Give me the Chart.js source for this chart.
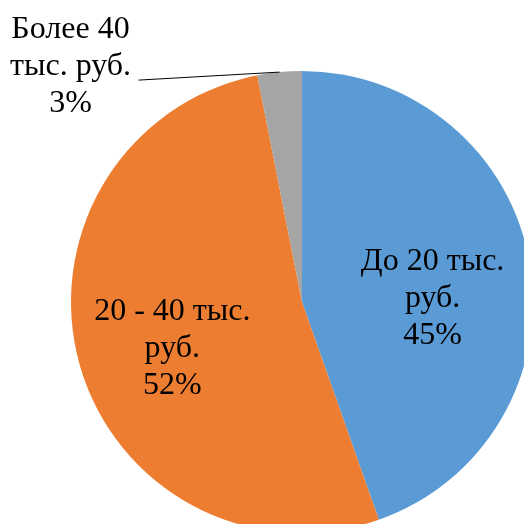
<!DOCTYPE html>
<html>
<head>
<meta charset="utf-8">
<script src="https://cdn.jsdelivr.net/npm/chart.js@4"></script>
<style>
  html, body { margin: 0; padding: 0; overflow: hidden; background: #fff; }
  #wrap { width: 524px; height: 524px; overflow: hidden; position: relative; }
  canvas { position: absolute; left: 0; top: 0; }
</style>
</head>
<body>
<div id="wrap"><canvas id="myChart" width="604" height="604"></canvas></div>
<script>
const ctx = document.getElementById('myChart').getContext('2d')

const labels = [
    ['До 20 тыс.', 'руб.'],
    ['20 - 40 тыс.', 'руб.'],
    ['Более 40', 'тыс. руб.']
]
const values = [44.6, 52.3, 3.1]
const colors = ['#5B9BD5', '#ED7D31', '#A5A5A5']

const font = '32px "Liberation Serif", "Times New Roman", serif'
const lineH = 37

// labels drawn by hand, Excel-like
const pieLabels = {
    id: 'pieLabels',
    afterDatasetsDraw(chart) {
        const c = chart.ctx
        const meta = chart.getDatasetMeta(0)
        const total = values.reduce((a, b) => a + b, 0)
        const shift = [[-6, 20], [4, 10]]
        c.save()
        c.font = font
        c.fillStyle = '#000'
        c.textAlign = 'center'
        c.textBaseline = 'middle'
        meta.data.forEach((arc, i) => {
            const mid = (arc.startAngle + arc.endAngle) / 2
            const lines = labels[i].concat([Math.round(values[i] / total * 100) + '%'])
            let x, y
            if (i === 2) {
                // outside label with leader line
                const ex = arc.x + Math.cos(mid) * arc.outerRadius
                const ey = arc.y + Math.sin(mid) * arc.outerRadius
                const lx = ex - 141, ly = ey + 8
                c.strokeStyle = '#000'
                c.lineWidth = 1
                c.beginPath()
                c.moveTo(ex, ey)
                c.lineTo(lx, ly)
                c.stroke()
                x = lx - 68
                y = ly - 14
            } else {
                const r = arc.outerRadius * 0.6
                x = arc.x + Math.cos(mid) * r + shift[i][0]
                y = arc.y + Math.sin(mid) * r + shift[i][1]
            }
            lines.forEach((t, k) => {
                c.fillText(t, x, y + (k - 1) * lineH)
            })
        })
        c.restore()
    }
}

const config = {
    type: 'pie',
    data: {
        labels: labels.map(l => l.join(' ')),
        datasets: [{
            data: values,
            backgroundColor: colors,
            borderWidth: 0
        }]
    },
    options: {
        responsive: false,
        animation: false,
        layout: { padding: 71 },
        plugins: {
            legend: { display: false },
            tooltip: { enabled: false }
        }
    },
    plugins: [pieLabels]
}

const myChart = new Chart(ctx, config)
</script>
</body>
</html>
